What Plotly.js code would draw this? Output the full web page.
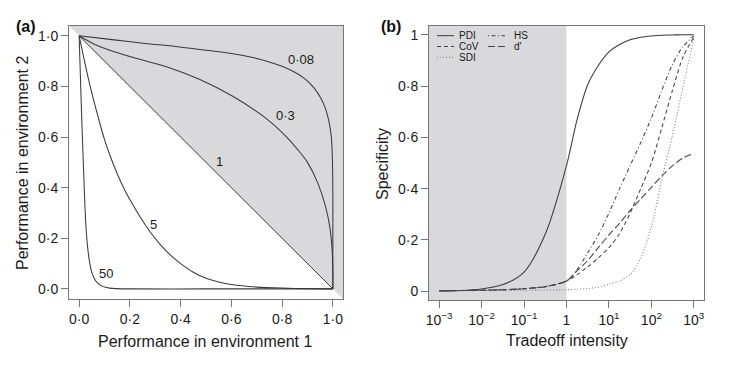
<!DOCTYPE html>
<html>
<head>
<meta charset="utf-8">
<script src="https://cdn.plot.ly/plotly-3.0.1.min.js"></script>
<style>html,body{margin:0;padding:0;background:#fff;}#chart{width:730px;height:368px;}</style>
</head>
<body>
<div id="chart"></div>
<script>
// ---------- Panel (a): performance trade-off curves ----------
const PERF_TICKS = [0, 0.2, 0.4, 0.6, 0.8, 1];
const PERF_TICK_LABELS = ['0·0', '0·2', '0·4', '0·6', '0·8', '1·0'];

const CURVE_008_X = [0, 0.13, 0.26, 0.38, 0.5, 0.6, 0.68, 0.74, 0.8, 0.85, 0.89, 0.925, 0.95, 0.97, 0.985, 0.994, 0.998, 1, 1];
const CURVE_008_Y = [1, 0.985, 0.97, 0.958, 0.943, 0.93, 0.915, 0.9, 0.88, 0.856, 0.83, 0.795, 0.758, 0.715, 0.66, 0.6, 0.52, 0.38, 0];

const CURVE_03_X = [0, 0.064, 0.196, 0.35, 0.476, 0.607, 0.739, 0.818, 0.87, 0.9, 0.94, 0.97, 0.988, 0.997, 1, 1];
const CURVE_03_Y = [1, 0.965, 0.919, 0.876, 0.827, 0.76, 0.672, 0.6, 0.54, 0.5, 0.42, 0.33, 0.245, 0.155, 0.06, 0];

const CURVE_1_X = [0, 1];
const CURVE_1_Y = [1, 0];

const CURVE_5_X = [0, 0.02, 0.04, 0.06, 0.08, 0.1, 0.125, 0.15, 0.18, 0.21, 0.24, 0.28, 0.32, 0.36, 0.4, 0.45, 0.5, 0.55, 0.6, 0.7, 0.8, 0.9, 1];
const CURVE_5_Y = [1, 0.905, 0.815, 0.735, 0.66, 0.59, 0.518, 0.455, 0.39, 0.335, 0.285, 0.225, 0.175, 0.133, 0.1, 0.066, 0.042, 0.027, 0.017, 0.007, 0.003, 0.001, 0];

const CURVE_50_X = [0, 0.004, 0.008, 0.012, 0.016, 0.02, 0.024, 0.029, 0.035, 0.042, 0.05, 0.06, 0.072, 0.086, 0.1, 0.12, 0.145, 0.2, 0.5, 1];
const CURVE_50_Y = [1, 0.87, 0.74, 0.62, 0.51, 0.4, 0.3, 0.215, 0.15, 0.1, 0.065, 0.04, 0.024, 0.013, 0.007, 0.003, 0.001, 0, 0, 0];

const CURVE_LABELS = ['0·08', '0·3', '1', '5', '50'];
const CURVE_LABEL_X = [0.876, 0.813, 0.555, 0.292, 0.104];
const CURVE_LABEL_Y = [0.906, 0.687, 0.505, 0.256, 0.059];

// ---------- Panel (b): specificity vs trade-off intensity ----------
const TRADEOFF = [0.001, 0.0032, 0.01, 0.032, 0.1, 0.32, 1, 1.78, 3.16, 5.62, 10, 17.8, 31.6, 56.2, 100, 178, 316, 562, 1000];
const PDI    = [0.001, 0.003, 0.009, 0.026, 0.075, 0.225, 0.49, 0.67, 0.805, 0.88, 0.933, 0.962, 0.98, 0.99, 0.995, 0.998, 0.999, 1, 1];
const COV    = [0.002, 0.003, 0.004, 0.006, 0.01, 0.019, 0.04, 0.065, 0.095, 0.13, 0.17, 0.225, 0.305, 0.40, 0.5, 0.64, 0.785, 0.915, 0.99];
const SDI    = [0.002, 0.002, 0.003, 0.003, 0.004, 0.005, 0.006, 0.008, 0.011, 0.016, 0.028, 0.04, 0.065, 0.13, 0.25, 0.44, 0.61, 0.80, 0.985];
const HS     = [0.002, 0.003, 0.004, 0.006, 0.01, 0.018, 0.04, 0.085, 0.15, 0.22, 0.305, 0.40, 0.49, 0.58, 0.675, 0.785, 0.885, 0.955, 0.995];
const DPRIME = [0.002, 0.003, 0.004, 0.006, 0.01, 0.018, 0.04, 0.08, 0.12, 0.17, 0.22, 0.265, 0.315, 0.36, 0.405, 0.45, 0.49, 0.52, 0.537];

const T_TICKS = [0.001, 0.01, 0.1, 1, 10, 100, 1000];
const T_TICK_LABELS = ['10<sup>−3</sup>', '10<sup>−2</sup>', '10<sup>−1</sup>', '1', '10<sup>1</sup>', '10<sup>2</sup>', '10<sup>3</sup>'];
const SPEC_TICKS = [0, 0.2, 0.4, 0.6, 0.8, 1];
const SPEC_TICK_LABELS = ['0', '0·2', '0·4', '0·6', '0·8', '1'];

const SERIES_NAMES = ['PDI', 'CoV', 'SDI', 'HS', "d'"];

// ---------- styles ----------
const FONT = 'Liberation Sans, Arial, Helvetica, sans-serif';
const FRAME = '#767676';
const INK = '#3a3a3a';
const SHADE = 'rgb(217,217,219)';
const DASH = {PDI: 'solid', CoV: '4px,3px', SDI: '1px,2px', HS: '1px,2.5px,4px,2.5px', "d'": '7px,3px'};
const COLOR = {PDI: '#3a3a3a', CoV: '#444', SDI: '#7a7a7a', HS: '#444', "d'": '#444'};

const lineA = (x, y) => ({x, y, type: 'scatter', mode: 'lines', xaxis: 'x', yaxis: 'y',
  line: {color: INK, width: 1.05, shape: 'spline', smoothing: 0.8}, hoverinfo: 'skip'});

const specData = {PDI: PDI, CoV: COV, SDI: SDI, HS: HS, "d'": DPRIME};
const tracesB = SERIES_NAMES.map(n => ({
  x: TRADEOFF, y: specData[n], type: 'scatter', mode: 'lines', xaxis: 'x2', yaxis: 'y2', name: n,
  line: {color: COLOR[n], width: 1.05, dash: DASH[n], shape: 'spline', smoothing: 0.8}, hoverinfo: 'skip'
}));

const data = [
  lineA(CURVE_008_X, CURVE_008_Y),
  lineA(CURVE_03_X, CURVE_03_Y),
  Object.assign(lineA(CURVE_1_X, CURVE_1_Y), {line: {color: INK, width: 1}}),
  lineA(CURVE_5_X, CURVE_5_Y),
  lineA(CURVE_50_X, CURVE_50_Y),
  ...tracesB
];

const W = 730, H = 368;
const px = v => v / W, py = v => 1 - v / H;

const axisCommon = {
  showline: true, mirror: true, linecolor: FRAME, linewidth: 1,
  ticks: 'outside', ticklen: 7, tickcolor: FRAME, tickwidth: 1,
  showgrid: false, zeroline: false, fixedrange: true,
  tickfont: {family: FONT, size: 14, color: '#1a1a1a'}
};

const annotations = [];
CURVE_LABELS.forEach((t, i) => annotations.push({
  text: t, x: CURVE_LABEL_X[i], y: CURVE_LABEL_Y[i], xref: 'x', yref: 'y', showarrow: false,
  font: {family: FONT, size: 13, color: '#1a1a1a'}, xanchor: 'center', yanchor: 'middle'
}));
const title = (text, x, y, angle) => ({text, x: px(x), y: py(y), xref: 'paper', yref: 'paper', showarrow: false,
  textangle: angle || 0, xanchor: 'center', yanchor: 'middle', font: {family: FONT, size: 16, color: '#1a1a1a'}});
annotations.push(title('Performance in environment 1', 205, 341.7));
annotations.push(title('Performance in environment 2', 22, 163, -90));
annotations.push(title('Tradeoff intensity', 566.7, 340.7));
annotations.push(title('Specificity', 382, 164, -90));
annotations.push({text: '<b>(a)</b>', x: px(26.5), y: py(26.5), xref: 'paper', yref: 'paper', showarrow: false,
  xanchor: 'center', yanchor: 'middle', font: {family: FONT, size: 16, color: '#111'}});
annotations.push({text: '<b>(b)</b>', x: px(390.5), y: py(26.5), xref: 'paper', yref: 'paper', showarrow: false,
  xanchor: 'center', yanchor: 'middle', font: {family: FONT, size: 16, color: '#111'}});

// legend (manual, two columns)
const LEG_POS = {PDI: [437, 457, 35.7], CoV: [437, 457, 46.5], SDI: [437, 457, 57.3], HS: [488, 512, 35.7], "d'": [488, 512, 46.5]};
const shapes = [
  {type: 'path', xref: 'x', yref: 'y', path: 'M -0.2,1.2 L 1.2,-0.2 L 1.2,1.2 Z', fillcolor: SHADE, line: {width: 0}, layer: 'below'},
  {type: 'rect', xref: 'x2 domain', yref: 'y2 domain', x0: 0, x1: 0.5, y0: 0, y1: 1, fillcolor: SHADE, line: {width: 0}, layer: 'below'}
];
SERIES_NAMES.forEach(n => {
  const [x0, tx, y] = LEG_POS[n];
  shapes.push({type: 'line', xref: 'paper', yref: 'paper', x0: px(x0), x1: px(x0 + 17), y0: py(y), y1: py(y),
    line: {color: COLOR[n], width: 1, dash: DASH[n]}});
  annotations.push({text: n, x: px(tx), y: py(y), xref: 'paper', yref: 'paper', showarrow: false,
    xanchor: 'left', yanchor: 'middle', font: {family: FONT, size: 10, color: '#1a1a1a'}});
});

const layout = {
  width: W, height: H, margin: {l: 0, r: 0, t: 0, b: 0},
  paper_bgcolor: '#fff', plot_bgcolor: '#fff', showlegend: false,
  font: {family: FONT, size: 14, color: '#1a1a1a'},
  xaxis: Object.assign({}, axisCommon, {domain: [px(69), px(343)], range: [-0.04, 1.04], anchor: 'y',
    tickvals: PERF_TICKS, ticktext: PERF_TICK_LABELS}),
  yaxis: Object.assign({}, axisCommon, {domain: [py(299), py(25.7)], range: [-0.04, 1.04], anchor: 'x',
    tickvals: PERF_TICKS, ticktext: PERF_TICK_LABELS}),
  xaxis2: Object.assign({}, axisCommon, {domain: [px(429), px(704)], type: 'log', range: [-3.24, 3.24], anchor: 'y2',
    tickvals: T_TICKS, ticktext: T_TICK_LABELS}),
  yaxis2: Object.assign({}, axisCommon, {domain: [py(300), py(26)], range: [-0.034, 1.034], anchor: 'x2',
    tickvals: SPEC_TICKS, ticktext: SPEC_TICK_LABELS}),
  shapes, annotations
};

Plotly.newPlot('chart', data, layout, {staticPlot: true, displayModeBar: false});
</script>
</body>
</html>
